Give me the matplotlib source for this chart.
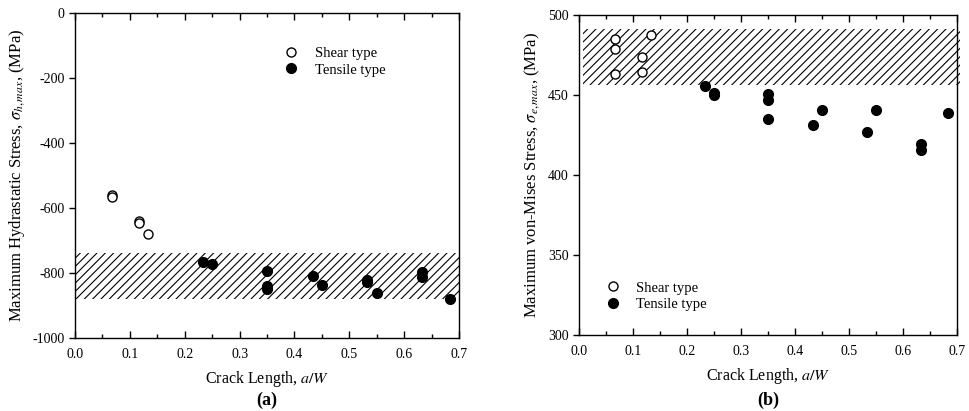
import numpy as np
import matplotlib
matplotlib.use("Agg")
import matplotlib.pyplot as plt

plt.rcParams["font.family"] = "serif"
plt.rcParams["font.serif"] = ["Liberation Serif", "DejaVu Serif"]
plt.rcParams["mathtext.fontset"] = "stix"
plt.rcParams["axes.unicode_minus"] = False
plt.rcParams["hatch.linewidth"] = 0.8

# (a) hydrostatic stress
a_shear_x = [0.067, 0.067, 0.117, 0.117, 0.133]
a_shear_y = [-560, -566, -639, -645, -680]
a_tens_x = [0.233, 0.25, 0.35, 0.35, 0.35, 0.433, 0.45, 0.533, 0.533, 0.55, 0.633, 0.633, 0.683]
a_tens_y = [-765, -773, -794, -840, -848, -809, -837, -822, -828, -863, -798, -813, -880]
a_band = (-880, -738)

# (b) von Mises stress
b_shear_x = [0.067, 0.067, 0.067, 0.117, 0.117, 0.133]
b_shear_y = [485, 478.5, 463, 474, 464.5, 487.5]
b_tens_x = [0.233, 0.25, 0.25, 0.35, 0.35, 0.35, 0.433, 0.45, 0.533, 0.55, 0.633, 0.633, 0.683]
b_tens_y = [455.6, 451.2, 450.3, 450.4, 447, 435.2, 431, 440.4, 427, 440.8, 419.4, 415.8, 438.5]
b_band = (456, 491)

fig = plt.figure(figsize=(9.69, 4.11), dpi=100)
ax1 = fig.add_axes([0.0774, 0.1776, 0.3963, 0.7908])
ax2 = fig.add_axes([0.5975, 0.1849, 0.3901, 0.7786])


def style(ax, ylim, yticks):
    ax.set_xlim(0, 0.7)
    ax.set_ylim(*ylim)
    ax.set_xticks(np.arange(0, 0.71, 0.1))
    ax.set_xticks(np.arange(0.05, 0.7, 0.1), minor=True)
    ax.set_yticks(yticks)
    ax.set_xticklabels(["%.1f" % t for t in np.arange(0, 0.71, 0.1)])
    ax.tick_params(axis="x", which="major", direction="in", top=True, length=5, width=1, labelsize=10, pad=7)
    ax.tick_params(axis="x", which="minor", direction="in", top=True, length=3, width=1)
    ax.tick_params(axis="y", direction="out", length=4, width=1, labelsize=10)
    for s in ax.spines.values():
        s.set_linewidth(1)
    ax.set_xlabel("Crack Length, $a/W$", fontsize=11.5, labelpad=6)


style(ax1, (-1000, 0), np.arange(-1000, 1, 200))
ax1.fill_between([0, 0.7], a_band[0], a_band[1], facecolor="none", edgecolor="black",
                 hatch="////", linewidth=0)
ax1.plot(a_shear_x, a_shear_y, "o", mfc="white", mec="black", ms=6.5, mew=1, label="Shear type")
ax1.plot(a_tens_x, a_tens_y, "o", mfc="black", mec="black", ms=7, label="Tensile type")
ax1.set_ylabel(r"Maximum Hydrastatic Stress, $\sigma_{h,max}$, (MPa)", fontsize=12)
ax1.legend(loc="upper left", bbox_to_anchor=(0.51, 0.935), frameon=False, fontsize=10.5,
           handlelength=1, handletextpad=1.1, labelspacing=0.2)
fig.text(0.2755, 0.015, "(a)", ha="center", fontsize=13, fontweight="bold")

style(ax2, (300, 500), np.arange(300, 501, 50))
ax2.fill_between([0.007, 0.705], b_band[0], b_band[1], facecolor="none", edgecolor="black",
                 hatch="////", linewidth=0, clip_on=False)
ax2.plot(b_shear_x, b_shear_y, "o", mfc="white", mec="black", ms=6.5, mew=1, label="Shear type")
ax2.plot(b_tens_x, b_tens_y, "o", mfc="black", mec="black", ms=7, label="Tensile type")
ax2.set_ylabel(r"Maximum von-Mises Stress, $\sigma_{e,max}$, (MPa)", fontsize=12)
ax2.legend(loc="lower left", bbox_to_anchor=(0.035, 0.035), frameon=False, fontsize=10.5,
           handlelength=1, handletextpad=1.1, labelspacing=0.2)
fig.text(0.7925, 0.015, "(b)", ha="center", fontsize=13, fontweight="bold")

plt.savefig("out.png", dpi=100)
